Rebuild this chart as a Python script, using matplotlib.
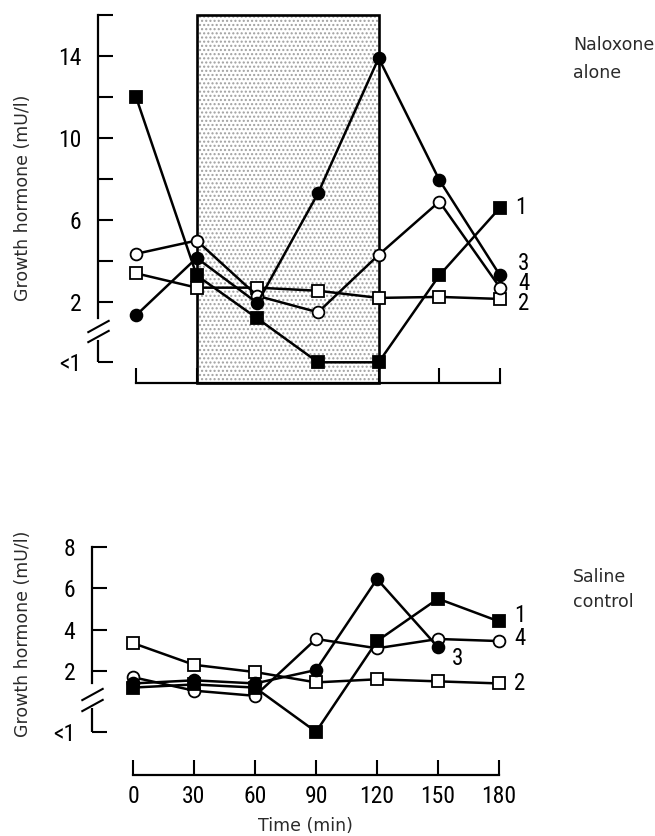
import numpy as np
import matplotlib
matplotlib.use('Agg')
import matplotlib.pyplot as plt
from matplotlib import font_manager
from matplotlib.path import Path
from matplotlib.patches import Rectangle

# ---------------- data ----------------
time = [0, 30, 60, 90, 120, 150, 180]
LT = -0.94  # plotting position of the "<1" level

# Naloxone alone (subjects 1-4)
nal_s1 = [12.0, 3.3, 1.2, LT, LT, 3.3, 6.6]
nal_s2 = [3.4, 2.7, 2.7, 2.55, 2.2, 2.25, 2.15]
nal_s3 = [1.35, 4.15, 1.95, 7.3, 13.9, 7.95, 3.3]
nal_s4 = [4.35, 5.0, 2.3, 1.5, 4.3, 6.9, 2.7]

# Saline control (subjects 1-4)
sal_s1 = [1.2, 1.35, 1.2, LT, 3.45, 5.5, 4.4]
sal_s2 = [3.35, 2.3, 1.95, 1.45, 1.6, 1.5, 1.4]
sal_s3 = [1.4, 1.55, 1.4, 2.05, 6.45, 3.15, np.nan]
sal_s4 = [1.7, 1.05, 0.8, 3.55, 3.1, 3.55, 3.45]

infusion = (30, 120)
top_yticks = [LT, 2, 4, 6, 8, 10, 12, 14, 16]
top_yticklabels = ['<1', '2', '', '6', '', '10', '', '14', '']
bot_yticks = [LT, 2, 4, 6, 8]
bot_yticklabels = ['<1', '2', '4', '6', '8']
xticks = time
xticklabels = [str(t) for t in time]

# pick a condensed face for the numerals if one is installed
_names = {f.name for f in font_manager.fontManager.ttflist}
_narrow = None
for cand in ['Liberation Sans Narrow', 'DejaVu Sans Condensed', 'Roboto Condensed',
             'Open Sans Condensed']:
    if cand in _names:
        _narrow = cand
        break
NARROW = [_narrow, 'DejaVu Sans'] if _narrow else ['DejaVu Sans']
NUM_SIZE = 17 if _narrow else 14
LAB_SIZE = 16.5 if _narrow else 13
REG = ['DejaVu Sans']

W, H = 655, 836
fig = plt.figure(figsize=(W / 100, H / 100), dpi=100)


def frac(l, t, r, b):
    return [l / W, 1 - b / H, (r - l) / W, (b - t) / H]


styles = {
    1: dict(marker='s', mfc='black'),
    2: dict(marker='s', mfc='white'),
    3: dict(marker='o', mfc='black'),
    4: dict(marker='o', mfc='white'),
}


def setup(ax, xlim, ylim, yticks, yticklabels, brk, slashes, show_x, xt):
    ax.set_xlim(*xlim)
    ax.set_ylim(*ylim)
    for s in ['top', 'right']:
        ax.spines[s].set_visible(False)
    ax.spines['left'].set_bounds(brk[1], ylim[1])
    ax.spines['bottom'].set_bounds(0, 180)
    for s in ['left', 'bottom']:
        ax.spines[s].set_linewidth(1.6)
    ax.plot([xlim[0], xlim[0]], [yticks[0], brk[0]], color='k', lw=1.6,
            clip_on=False, solid_capstyle='butt')
    slash = Path([(-1, -0.55), (1, 0.55)], [Path.MOVETO, Path.LINETO])
    ax.plot([xlim[0]] * len(slashes), slashes, ls='none', marker=slash, ms=16,
            mew=1.5, color='k', clip_on=False)
    ax.set_yticks(yticks)
    ax.set_yticklabels(yticklabels, fontfamily=NARROW, fontsize=NUM_SIZE)
    ax.set_xticks(xt)
    ax.set_xticklabels([str(t) for t in xt], fontfamily=NARROW, fontsize=NUM_SIZE)
    ax.tick_params(axis='both', direction='in', length=11, width=1.5)
    ax.tick_params(axis='y', pad=12)
    ax.tick_params(axis='x', pad=7, labelbottom=show_x)
    ax.patch.set_visible(False)


def draw_series(ax, data):
    for k, vals in data:
        ax.plot(time, vals, color='black', lw=1.8, ms=8.5, mec='black', mew=1.3,
                clip_on=False, zorder=3, **styles[k])


# ---------------- top panel ----------------
ax1 = fig.add_axes(frac(98, 15, 500, 383))
top_xt = [t for t in xticks if not (infusion[0] < t < infusion[1])]
setup(ax1, (-18.8, 180), (-1.95, 16), top_yticks, top_yticklabels,
      (0.15, 1.2), [0.83, 0.34], False, top_xt)
plt.rcParams['hatch.linewidth'] = 1.0
rect = Rectangle((infusion[0], -1.95), infusion[1] - infusion[0], 16 + 1.95,
                 facecolor='white', edgecolor='#a0a0a0', hatch='....', lw=0,
                 zorder=1)
ax1.add_patch(rect)
ax1.add_patch(Rectangle((infusion[0], -1.95), infusion[1] - infusion[0], 16 + 1.95,
                        fill=False, edgecolor='black', lw=1.9, zorder=2, clip_on=False))
draw_series(ax1, [(2, nal_s2), (4, nal_s4), (1, nal_s1), (3, nal_s3)])

lab = dict(textcoords='offset points', fontfamily=NARROW, fontsize=LAB_SIZE,
           ha='left', va='center')
ax1.annotate('1', (180, nal_s1[-1]), xytext=(11, 0), **lab)
# stacked labels for subjects 3, 4 and 2 (one block, as in the original)
ax1.annotate('3\n4\n2', (180, nal_s4[-1]), xytext=(13, 3), linespacing=0.84, **lab)

# ---------------- bottom panel ----------------
ax2 = fig.add_axes(frac(92, 547, 499, 775))
setup(ax2, (-20.2, 180), (-3.03, 8), bot_yticks, bot_yticklabels,
      (0.21, 1.42), [0.89, 0.36], True, xticks)
draw_series(ax2, [(2, sal_s2), (4, sal_s4), (1, sal_s1), (3, sal_s3)])
ax2.annotate('1', (180, sal_s1[-1]), xytext=(11, 4), **lab)
ax2.annotate('4', (180, sal_s4[-1]), xytext=(11, 2), **lab)
ax2.annotate('3', (150, sal_s3[-2]), xytext=(10, -8), **lab)
ax2.annotate('2', (180, sal_s2[-1]), xytext=(11, 0), **lab)

# ---------------- texts ----------------
txt = dict(fontfamily=REG, fontsize=12.5, color='#2a2a2a')
fig.text(23 / W, 1 - 198 / H, 'Growth hormone (mU/l)', rotation=90,
         ha='center', va='center', **txt)
fig.text(23 / W, 1 - 634 / H, 'Growth hormone (mU/l)', rotation=90,
         ha='center', va='center', **txt)
fig.text(573 / W, 1 - 50 / H, 'Naloxone', ha='left', va='baseline', **txt)
fig.text(573 / W, 1 - 78 / H, 'alone', ha='left', va='baseline', **txt)
fig.text(573 / W, 1 - 582 / H, 'Saline', ha='left', va='baseline', **txt)
fig.text(573 / W, 1 - 607 / H, 'control', ha='left', va='baseline', **txt)
fig.text(305 / W, 1 - 826 / H, 'Time (min)', ha='center', va='center', **txt)

fig.savefig('out.png', dpi=100, facecolor='white')
